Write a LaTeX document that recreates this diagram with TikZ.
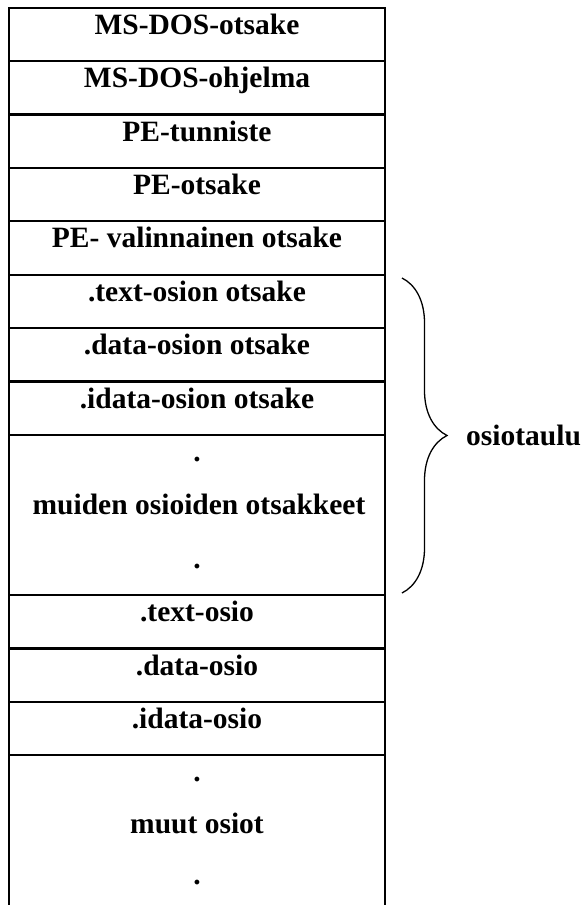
\documentclass[tikz,border=0pt]{standalone}
\usepackage{fontspec}
\setmainfont{Liberation Serif}
\usetikzlibrary{decorations.pathreplacing}
\begin{document}
\begin{tikzpicture}[x=1pt,y=-1pt,
  cell/.style={draw,line width=2.3pt,minimum width=376pt,anchor=north,inner sep=0pt},
  entry/.style={anchor=base,inner sep=0pt,font=\fontsize{29.5}{35}\selectfont\bfseries}]
\useasboundingbox (0,0) rectangle (583,905);
% Cells
\node[cell,minimum height=53.4pt] (hdr-dos) at (197,6.5) {};
\node[cell,minimum height=53.4pt] (prog-dos) at (197,59.9) {};
\node[cell,minimum height=53.4pt] (sig-pe) at (197,113.3) {};
\node[cell,minimum height=53.4pt] (hdr-pe) at (197,166.7) {};
\node[cell,minimum height=53.4pt] (opt-pe) at (197,220.1) {};
\node[cell,minimum height=53.4pt] (hdr-text) at (197,273.5) {};
\node[cell,minimum height=53.4pt] (hdr-data) at (197,326.9) {};
\node[cell,minimum height=53.4pt] (hdr-idata) at (197,380.3) {};
\node[cell,minimum height=160.2pt] (hdr-other) at (197,433.7) {};
\node[cell,minimum height=53.4pt] (sec-text) at (197,593.9) {};
\node[cell,minimum height=53.4pt] (sec-data) at (197,647.3) {};
\node[cell,minimum height=53.4pt] (sec-idata) at (197,700.7) {};
\node[cell,minimum height=160.2pt] (sec-other) at (197,754.1) {};
% Texts
\node[entry] (t-hdr-dos) at (197,34) {MS-DOS-otsake};
\node[entry] (t-prog-dos) at (197,87.4) {MS-DOS-ohjelma};
\node[entry] (t-sig-pe) at (197,141) {PE-tunniste};
\node[entry] (t-hdr-pe) at (197,194.4) {PE-otsake};
\node[entry] (t-opt-pe) at (197,247.8) {PE- valinnainen otsake};
\node[entry] (t-hdr-text) at (197,301.2) {.text-osion otsake};
\node[entry] (t-hdr-data) at (197,354.6) {.data-osion otsake};
\node[entry] (t-hdr-idata) at (197,408) {.idata-osion otsake};
\node[entry] (t-hdr-dot1) at (197,461.4) {.};
\node[entry] (t-hdr-other) at (199,514.8) {muiden osioiden otsakkeet};
\node[entry] (t-hdr-dot2) at (197,568.2) {.};
\node[entry] (t-sec-text) at (197,621.6) {.text-osio};
\node[entry] (t-sec-data) at (197,675) {.data-osio};
\node[entry] (t-sec-idata) at (197,728.4) {.idata-osio};
\node[entry] (t-sec-dot1) at (197,781.8) {.};
\node[entry] (t-sec-other) at (197,833) {muut osiot};
\node[entry] (t-sec-dot2) at (197,884) {.};
% Brace for the section table
\coordinate (brace-top) at (402,278);
\coordinate (brace-bottom) at (402,593);
\draw[line width=1.3pt,decorate,decoration={brace,amplitude=45pt}] (brace-top) -- (brace-bottom);
\node[entry,anchor=base west] (osiotaulu) at (466,445) {osiotaulu};
\end{tikzpicture}
\end{document}
